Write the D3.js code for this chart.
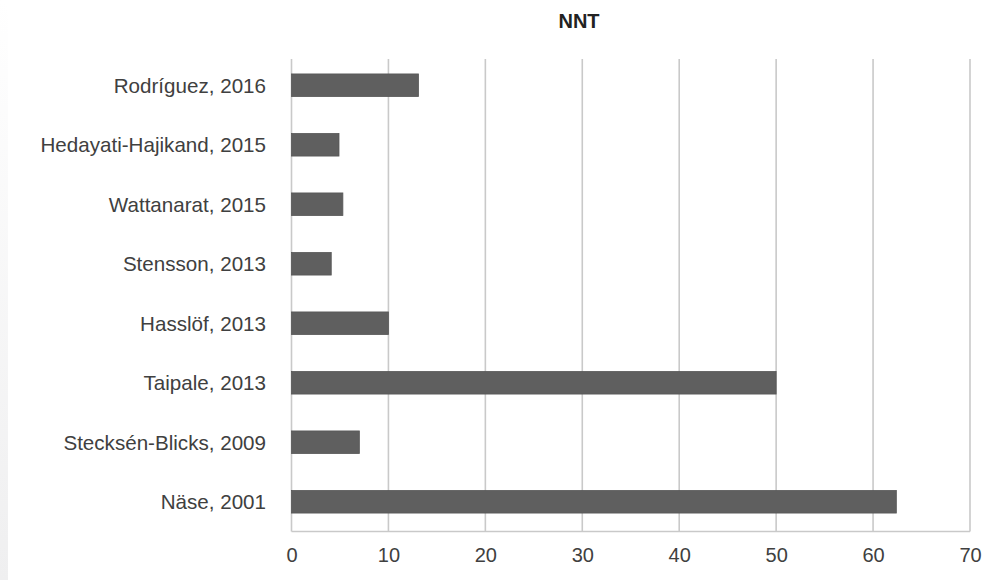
<!DOCTYPE html>
<html>
<head>
<meta charset="utf-8">
<script src="https://cdn.jsdelivr.net/npm/d3@7"></script>
<style>
html,body{margin:0;padding:0;background:#fff;}
svg{display:block;}
text{font-family:"Liberation Sans",Arial,Helvetica,sans-serif;}
</style>
</head>
<body>
<svg id="chart" width="1008" height="580"></svg>
<script>
const categories = ["Rodríguez, 2016","Hedayati-Hajikand, 2015","Wattanarat, 2015","Stensson, 2013","Hasslöf, 2013","Taipale, 2013","Stecksén-Blicks, 2009","Näse, 2001"];
const nntValues = [13.1, 4.9, 5.3, 4.1, 10, 50, 7.0, 62.4];
const xTicks = [0,10,20,30,40,50,60,70];
const chartTitle = "NNT";

const svg = d3.select("#chart");

// subtle left gradient strip
const defs = svg.append("defs");
const grad = defs.append("linearGradient").attr("id","strip").attr("x1",0).attr("y1",0).attr("x2",0).attr("y2",1);
grad.append("stop").attr("offset","0%").attr("stop-color","#ffffff");
grad.append("stop").attr("offset","100%").attr("stop-color","#efeff0");
svg.append("rect").attr("x",0).attr("y",0).attr("width",8).attr("height",580).attr("fill","url(#strip)");

const x = d3.scaleLinear().domain([0,70]).range([291.5,970]);
const y = d3.scaleBand().domain(categories).range([55.5,531.5]).paddingInner(0.62).paddingOuter(0.31);

const gridTop = 59, gridBottom = 531.5;

// gridlines
svg.append("g").selectAll("line").data(xTicks).join("line")
  .attr("x1",d=>x(d)).attr("x2",d=>x(d))
  .attr("y1",gridTop).attr("y2",gridBottom)
  .attr("stroke","#c9c9c9").attr("stroke-width",1.6);

// bottom axis line
svg.append("line").attr("x1",x(0)).attr("x2",x(70)).attr("y1",gridBottom).attr("y2",gridBottom)
  .attr("stroke","#c9c9c9").attr("stroke-width",1.6);

// bars
svg.append("g").selectAll("rect").data(categories).join("rect")
  .attr("x",x(0))
  .attr("y",d=>y(d))
  .attr("width",(d,i)=>x(nntValues[i])-x(0))
  .attr("height",y.bandwidth())
  .attr("fill","#5f5f5f")
  .attr("stroke","#575757").attr("stroke-width",0.8);

// x axis tick labels
const xAxis = d3.axisBottom(x).tickValues(xTicks).tickSize(0).tickPadding(0);
const gx = svg.append("g").attr("transform",`translate(0,${gridBottom})`).call(xAxis);
gx.select(".domain").remove();
gx.selectAll("text").attr("y",30).attr("dy",0)
  .attr("font-size",20).attr("fill","#404040").style("font-family","'Liberation Sans',Arial,sans-serif");

// y axis category labels
const yAxis = d3.axisLeft(y).tickSize(0).tickPadding(0);
const gy = svg.append("g").attr("transform","translate(266,0)").call(yAxis);
gy.select(".domain").remove();
gy.selectAll("text").attr("x",0).attr("dy","0.36em")
  .attr("font-size",20.6).attr("fill","#404040").style("font-family","'Liberation Sans',Arial,sans-serif");

// title
svg.append("text").attr("x",579).attr("y",28).attr("text-anchor","middle")
  .attr("font-size",20).attr("font-weight","bold").attr("fill","#222").text(chartTitle);
</script>
</body>
</html>
